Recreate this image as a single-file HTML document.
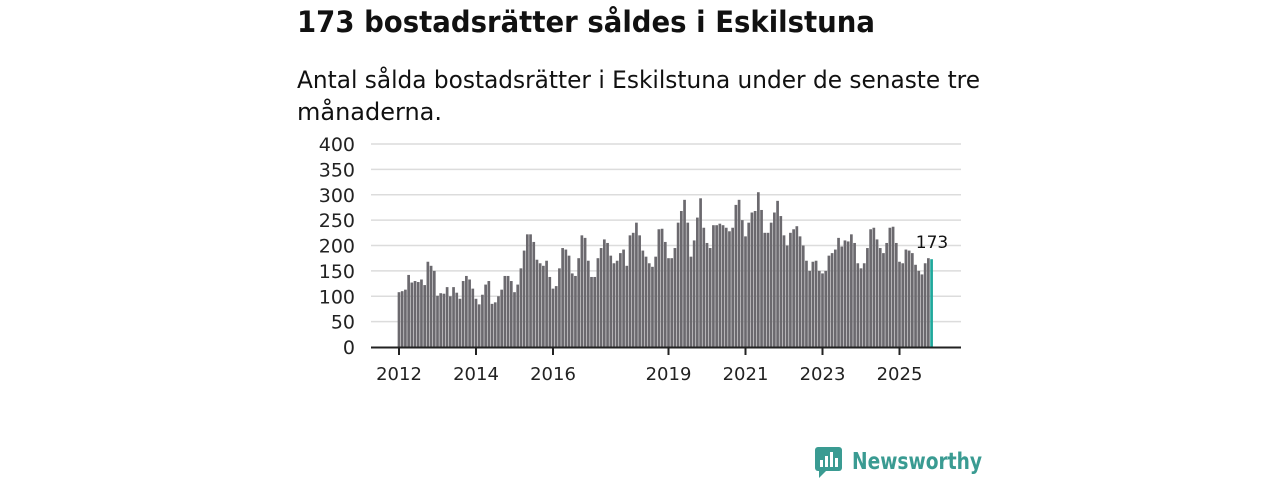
<!DOCTYPE html>
<html><head><meta charset="utf-8"><style>
body{margin:0;width:1280px;height:480px;background:#fff;font-family:"Liberation Sans","DejaVu Sans",sans-serif;overflow:hidden}
</style></head><body>
<svg width="1280" height="480" xmlns="http://www.w3.org/2000/svg" style="position:absolute;left:0;top:0">
<text x="297" y="32" font-size="29" font-weight="bold" fill="#111" font-family="DejaVu Sans, sans-serif" textLength="578" lengthAdjust="spacingAndGlyphs">173 bostadsrätter såldes i Eskilstuna</text>
<text x="297" y="88" font-size="24" fill="#111" font-family="DejaVu Sans, sans-serif" textLength="683" lengthAdjust="spacingAndGlyphs">Antal sålda bostadsrätter i Eskilstuna under de senaste tre</text>
<text x="297" y="120" font-size="24" fill="#111" font-family="DejaVu Sans, sans-serif">månaderna.</text>
<g id="grid" stroke="#dcdcdc" stroke-width="1.5"></g>
<g id="ylab" font-size="19" fill="#222" text-anchor="end" font-family="DejaVu Sans, sans-serif"></g>
<g id="bars"></g>
<line x1="371" y1="347.5" x2="961" y2="347.5" stroke="#222" stroke-width="2"/>
<g id="xt" stroke="#222" stroke-width="2"></g>
<g id="xl" font-size="18" fill="#222" text-anchor="middle" font-family="DejaVu Sans, sans-serif"></g>
<text x="932" y="248" font-size="17" fill="#111" text-anchor="middle" font-family="DejaVu Sans, sans-serif">173</text>
<g transform="translate(815,447)">
<rect x="0" y="0" width="27" height="24" rx="3" fill="#3a9b92"/>
<path d="M4 24 L4 31 L11 24Z" fill="#3a9b92"/>
<rect x="5" y="13" width="3" height="7" fill="#fff"/><rect x="10" y="9" width="3" height="11" fill="#fff"/><rect x="15" y="5" width="3" height="15" fill="#fff"/><rect x="20" y="11" width="3" height="9" fill="#fff"/>
</g>
<text x="852" y="469" font-size="23" fill="#3a9b92" font-weight="bold" font-family="DejaVu Sans, sans-serif" textLength="130" lengthAdjust="spacingAndGlyphs">Newsworthy</text>
</svg>
<script>
var ns="http://www.w3.org/2000/svg";
function el(p,t,a,txt){var e=document.createElementNS(ns,t);for(var k in a)e.setAttribute(k,a[k]);if(txt)e.textContent=txt;document.getElementById(p).appendChild(e);}
var y0=347,k=203/400;
for(var v=0;v<=400;v+=50){var y=y0-v*k;if(v>0)el("grid","line",{x1:371,x2:961,y1:y,y2:y});el("ylab","text",{x:355,y:y+7},String(v));}
var d=[108,110,113,142,127,130,128,133,122,168,160,150,
101,106,105,118,100,118,107,95,130,140,133,115,
95,84,103,123,130,85,88,100,113,140,140,130,
108,123,155,190,222,222,207,172,165,160,170,138,
115,120,155,195,192,180,145,140,175,220,215,170,
138,138,175,195,212,205,180,165,170,185,192,160,
220,225,245,220,190,178,165,158,178,232,233,207,
175,175,195,245,268,290,245,178,210,255,293,235,
205,195,240,240,243,240,235,228,235,280,290,250,
218,245,265,268,305,270,225,225,245,265,288,258,
220,200,225,232,238,218,200,170,150,168,170,150,
145,150,180,185,192,215,198,210,208,222,205,165,
155,165,195,232,235,212,195,185,205,235,237,205,
168,165,192,190,185,162,150,143,165,175,173];
var x0=399,p=38.5/12;
for(var i=0;i<d.length;i++){var h=d[i]*k;el("bars","rect",{x:x0+i*p-1.35,y:y0-h,width:2.7,height:h,fill:i==d.length-1?"#1fa89c":"#6b696e"});}
[2012,2014,2016,2019,2021,2023,2025].forEach(function(yr){var x=x0+(yr-2012)*38.5;el("xt","line",{x1:x,x2:x,y1:347,y2:355});el("xl","text",{x:x,y:380},String(yr));});
</script>
</body></html>
